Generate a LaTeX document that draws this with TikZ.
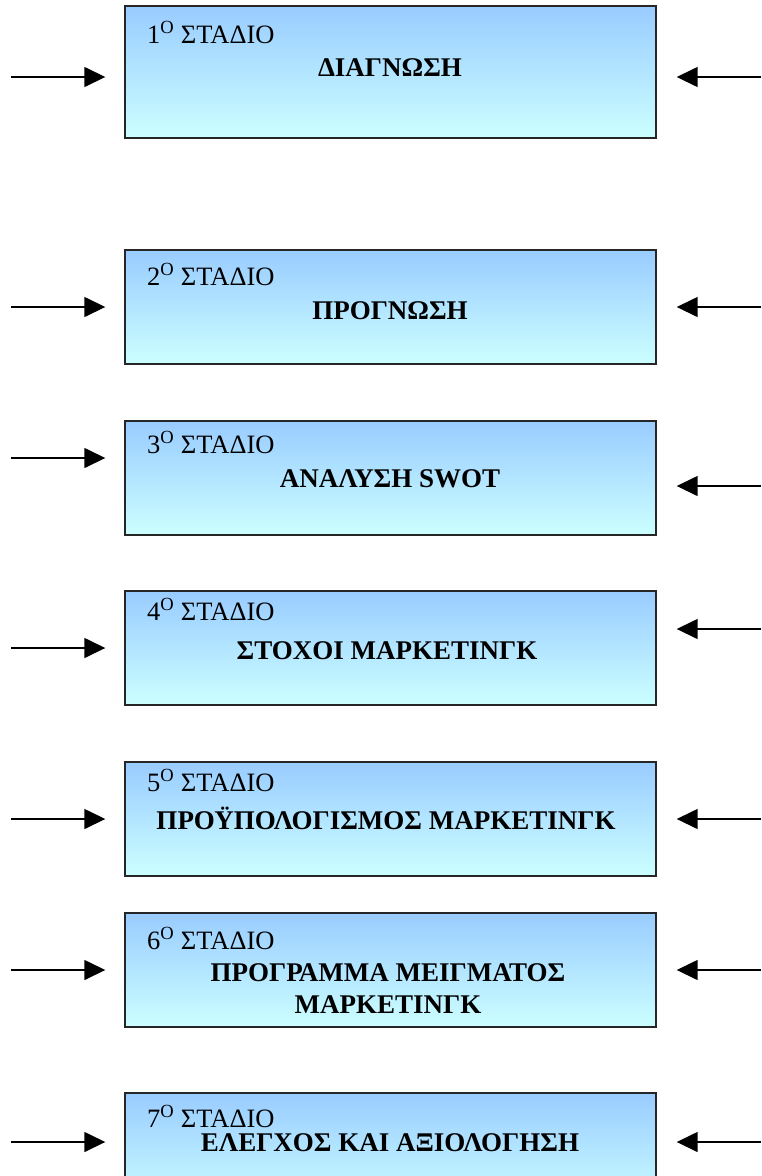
\documentclass[tikz,border=0pt]{standalone}
\usepackage{fontspec}
\setmainfont{Liberation Serif}
\usetikzlibrary{arrows.meta}
\definecolor{boxtop}{RGB}{153,204,255}
\definecolor{boxbottom}{RGB}{204,255,255}
\tikzset{
  stagebox/.style={rectangle, draw=black!85, line width=1.4pt,
    top color=boxtop, bottom color=boxbottom, inner sep=0pt,
    minimum width=531pt},
  stagelabel/.style={anchor=base west, inner sep=0pt,
    font=\fontsize{26.5}{30}\selectfont},
  stagetitle/.style={anchor=base, inner sep=0pt, align=center,
    font=\fontsize{27}{32}\selectfont\bfseries},
  feed/.style={line width=1.5pt, -{Triangle[length=21pt,width=20pt]}},
  inleft/.style={feed, shorten >=19pt},
  inright/.style={feed, shorten >=20pt},
}
\begin{document}
\begin{tikzpicture}[x=1pt,y=-1pt]
\useasboundingbox (0,0) rectangle (761,1176);
\begin{scope}
\clip (0,0) rectangle (761,1176);

% stage boxes
\node[stagebox, minimum height=132pt] (b1) at (390.5,72) {};
\node[stagebox, minimum height=114pt] (b2) at (390.5,307) {};
\node[stagebox, minimum height=114pt] (b3) at (390.5,478) {};
\node[stagebox, minimum height=114pt] (b4) at (390.5,648) {};
\node[stagebox, minimum height=114pt] (b5) at (390.5,819) {};
\node[stagebox, minimum height=114pt] (b6) at (390.5,970) {};
\node[stagebox, minimum height=114pt] (b7) at (390.5,1150) {};

% stage numbers
\node[stagelabel] (s1) at (147,43) {1\textsuperscript{O} ΣΤΑΔΙΟ};
\node[stagelabel] (s2) at (147,285) {2\textsuperscript{O} ΣΤΑΔΙΟ};
\node[stagelabel] (s3) at (147,453) {3\textsuperscript{O} ΣΤΑΔΙΟ};
\node[stagelabel] (s4) at (147,620) {4\textsuperscript{O} ΣΤΑΔΙΟ};
\node[stagelabel] (s5) at (147,791) {5\textsuperscript{O} ΣΤΑΔΙΟ};
\node[stagelabel] (s6) at (147,949) {6\textsuperscript{O} ΣΤΑΔΙΟ};
\node[stagelabel] (s7) at (147,1127) {7\textsuperscript{O} ΣΤΑΔΙΟ};

% stage titles
\node[stagetitle] (t1) at (390,76) {ΔΙΑΓΝΩΣΗ};
\node[stagetitle] (t2) at (390,319) {ΠΡΟΓΝΩΣΗ};
\node[stagetitle] (t3) at (390,487) {ΑΝΑΛΥΣΗ SWOT};
\node[stagetitle] (t4) at (387,659) {ΣΤΟΧΟΙ ΜΑΡΚΕΤΙΝΓΚ};
\node[stagetitle] (t5) at (386,829) {ΠΡΟΫΠΟΛΟΓΙΣΜΟΣ ΜΑΡΚΕΤΙΝΓΚ};
\node[stagetitle] (t6) at (388,1013) {ΠΡΟΓΡΑΜΜΑ ΜΕΙΓΜΑΤΟΣ\\ΜΑΡΚΕΤΙΝΓΚ};
\node[stagetitle] (t7) at (390,1151) {ΕΛΕΓΧΟΣ ΚΑΙ ΑΞΙΟΛΟΓΗΣΗ};

% incoming arrows from the left
\coordinate (l1) at (11,77);
\coordinate (l2) at (11,307);
\coordinate (l3) at (11,458);
\coordinate (l4) at (11,648);
\coordinate (l5) at (11,819);
\coordinate (l6) at (11,970);
\coordinate (l7) at (11,1142);
\foreach \i in {1,...,7}
  \draw[inleft] (l\i) -- (b\i.west |- l\i);

% incoming arrows from the right
\coordinate (r1) at (761,77);
\coordinate (r2) at (761,307);
\coordinate (r3) at (761,486);
\coordinate (r4) at (761,629);
\coordinate (r5) at (761,819);
\coordinate (r6) at (761,970);
\coordinate (r7) at (761,1142);
\foreach \i in {1,...,7}
  \draw[inright] (r\i) -- (b\i.east |- r\i);
\end{scope}
\end{tikzpicture}
\end{document}
